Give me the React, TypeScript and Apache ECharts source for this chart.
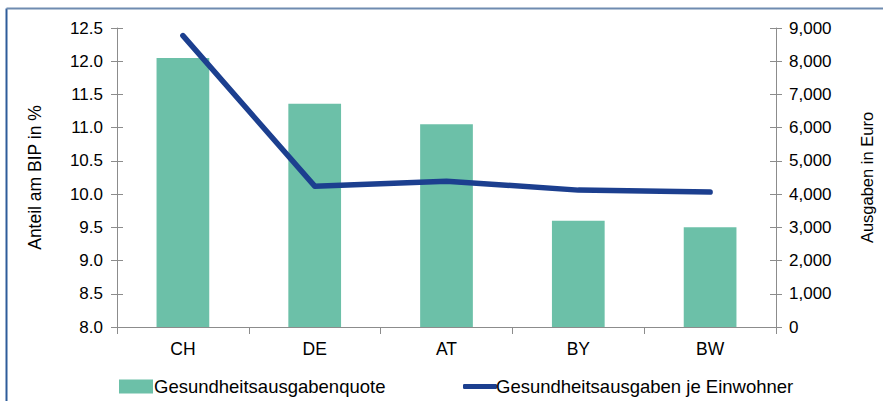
import React, { useEffect, useRef } from "react";
import * as echarts from "echarts";

const categories = ["CH", "DE", "AT", "BY", "BW"];
const quoteValues = [12.05, 11.36, 11.05, 9.6, 9.5];
const perCapitaValues = [8770, 4240, 4390, 4120, 4060];
const barName = "Gesundheitsausgabenquote";
const lineName = "Gesundheitsausgaben je Einwohner";
const leftAxisName = "Anteil am BIP in %";
const rightAxisName = "Ausgaben in Euro";

const FONT = "Liberation Sans, Arial, sans-serif";
const AXIS_COLOR = "#8c8c8c";
const BAR_COLOR = "#6cc0a8";
const LINE_COLOR = "#1c3f8f";

export default function App() {
  const ref = useRef<HTMLDivElement>(null);
  useEffect(() => {
    if (!ref.current) return;
    const chart = echarts.init(ref.current, undefined, { renderer: "svg" });
    chart.setOption({
      animation: false,
      backgroundColor: "#ffffff",
      textStyle: { fontFamily: FONT },
      grid: { left: 117, right: 104, top: 28, bottom: 74, containLabel: false },
      legend: [
        {
          top: 372,
          left: 114,
          itemWidth: 34,
          itemHeight: 14,
          itemGap: 0,
          icon: "rect",
          textStyle: { fontFamily: FONT, fontSize: 18.5, color: "#000", padding: [0, 0, 0, -4] },
          data: [barName],
        },
        {
          top: 372,
          left: 458,
          itemWidth: 34,
          itemHeight: 5,
          icon: "roundRect",
          textStyle: { fontFamily: FONT, fontSize: 18.5, color: "#000", padding: [0, 0, 0, -6] },
          data: [lineName],
        },
      ],
      xAxis: {
        type: "category",
        data: categories,
        axisLine: { lineStyle: { color: AXIS_COLOR, width: 1 } },
        axisTick: { show: true, length: 7, lineStyle: { color: AXIS_COLOR } },
        axisLabel: { color: "#000", fontSize: 17.5, fontFamily: FONT, margin: 13 },
      },
      yAxis: [
        {
          type: "value",
          min: 8,
          max: 12.5,
          interval: 0.5,
          position: "left",
          name: leftAxisName,
          nameLocation: "middle",
          nameGap: 73,
          nameTextStyle: { color: "#000", fontSize: 17.5, fontFamily: FONT },
          axisLine: { show: true, lineStyle: { color: AXIS_COLOR } },
          axisTick: { show: true, length: 6, lineStyle: { color: AXIS_COLOR } },
          axisLabel: {
            color: "#000",
            fontSize: 17,
            fontFamily: FONT,
            margin: 14,
            formatter: (v: number) => v.toFixed(1),
          },
          splitLine: { show: false },
        },
        {
          type: "value",
          min: 0,
          max: 9000,
          interval: 1000,
          position: "right",
          name: rightAxisName,
          nameLocation: "middle",
          nameGap: 82,
          nameRotate: 90,
          nameTextStyle: { color: "#000", fontSize: 16.5, fontFamily: FONT },
          axisLine: { show: true, lineStyle: { color: AXIS_COLOR } },
          axisTick: { show: true, length: 6, lineStyle: { color: AXIS_COLOR } },
          axisLabel: {
            color: "#000",
            fontSize: 17,
            fontFamily: FONT,
            margin: 13,
            formatter: (v: number) => v.toLocaleString("en-US"),
          },
          splitLine: { show: false },
        },
        {
          type: "value",
          min: 8,
          max: 12.5,
          interval: 0.5,
          position: "left",
          axisLine: { show: false },
          axisTick: { show: true, inside: true, length: 6, lineStyle: { color: AXIS_COLOR } },
          axisLabel: { show: false },
          splitLine: { show: false },
        },
        {
          type: "value",
          min: 0,
          max: 9000,
          interval: 1000,
          position: "right",
          axisLine: { show: false },
          axisTick: { show: true, inside: true, length: 6, lineStyle: { color: AXIS_COLOR } },
          axisLabel: { show: false },
          splitLine: { show: false },
        },
      ],
      series: [
        {
          name: barName,
          type: "bar",
          yAxisIndex: 0,
          data: quoteValues,
          barWidth: "40%",
          itemStyle: { color: BAR_COLOR },
        },
        {
          name: lineName,
          type: "line",
          yAxisIndex: 1,
          data: perCapitaValues,
          symbol: "none",
          lineStyle: { color: LINE_COLOR, width: 5.5, cap: "round", join: "round" },
          itemStyle: { color: LINE_COLOR },
        },
      ],
      graphic: [
        {
          type: "line",
          shape: { x1: 6.5, y1: 8.5, x2: 6.5, y2: 410 },
          style: { stroke: "#2e5c9a", lineWidth: 2 },
        },
        {
          type: "line",
          shape: { x1: 6.5, y1: 8.5, x2: 890, y2: 8.5 },
          style: { stroke: "#6f8bb0", lineWidth: 2 },
        },
      ],
    });
    return () => chart.dispose();
  }, []);
  return (
    <div
      ref={ref}
      style={{ position: "fixed", left: 0, top: 0, width: 883, height: 401 }}
    />
  );
}
